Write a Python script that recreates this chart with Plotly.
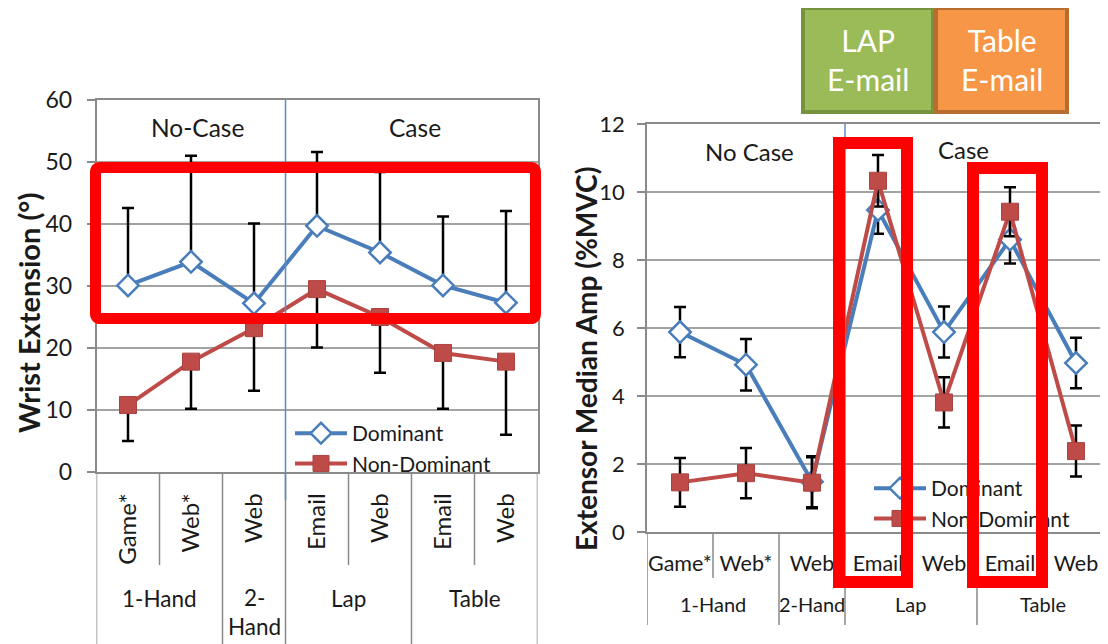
import plotly.graph_objects as go

# The page body has an 8px default margin, so the figure is laid out in
# window coordinates shifted by that amount.
OFF = 8
W, H = 1100, 636

# ---------------- data ----------------
sub_labels_left = ["Game*", "Web*", "Web", "Email", "Web", "Email", "Web"]
group_of_left = ["1-Hand", "1-Hand", "2-<br>Hand", "Lap", "Lap", "Table", "Table"]
sub_labels_right = ["Game*", "Web*", "Web", "Email", "Web", "Email", "Web"]
group_of_right = ["1-Hand", "1-Hand", "2-Hand", "Lap", "Lap", "Table", "Table"]

wrist_dom = [30.1, 33.9, 27.2, 39.7, 35.4, 30.1, 27.3]
wrist_dom_err_plus = [12.5, 17.1, 12.9, 11.9, 13.0, 11.1, 14.8]
wrist_nondom = [10.8, 17.8, 23.2, 29.5, 25.0, 19.2, 17.8]
wrist_nondom_err_minus = [5.8, 7.6, 10.1, 9.4, 9.0, 9.0, 11.8]

amp_dom = [5.88, 4.92, 1.48, 9.47, 5.88, 8.60, 4.97]
amp_dom_err = [0.74, 0.76, 0.75, 0.70, 0.75, 0.70, 0.74]
amp_nondom = [1.46, 1.73, 1.45, 10.33, 3.81, 9.42, 2.38]
amp_nondom_err = [0.72, 0.74, 0.75, 0.76, 0.74, 0.72, 0.75]

series_names = ["Dominant", "Non-Dominant"]
case_labels_left = ["No-Case", "Case"]
case_labels_right = ["No Case", "Case"]
box_labels = ["LAP<br>E-mail", "Table<br>E-mail"]

# ---------------- style ----------------
FONT = "Lato"
BLUE = "#4a7ebb"
RED = "#be4b48"
GRID = "#a3a3a3"
AXIS = "#8a8a8a"
TXT = "#1a1a1a"
idx = list(range(len(sub_labels_left)))


def px(x):
    return (x - OFF) / W


def py(y):
    return 1 - (y - OFF) / H


fig = go.Figure()

# ---- left chart traces ----
fig.add_trace(go.Scatter(
    x=idx, y=wrist_dom, mode="lines+markers", name=series_names[0],
    line=dict(color=BLUE, width=4),
    marker=dict(symbol="diamond", size=16.5, color="white", line=dict(color=BLUE, width=2.5)),
    error_y=dict(type="data", symmetric=False, array=wrist_dom_err_plus,
                 arrayminus=[0] * len(idx), color="black", thickness=2.5, width=6),
    xaxis="x", yaxis="y", legend="legend"))
fig.add_trace(go.Scatter(
    x=idx, y=wrist_nondom, mode="lines+markers", name=series_names[1],
    line=dict(color=RED, width=4),
    marker=dict(symbol="square", size=17, color=RED, line=dict(color="#a94340", width=1)),
    error_y=dict(type="data", symmetric=False, array=[0] * len(idx),
                 arrayminus=wrist_nondom_err_minus, color="black", thickness=2.5, width=6),
    xaxis="x", yaxis="y", legend="legend"))

# ---- right chart traces ----
fig.add_trace(go.Scatter(
    x=idx, y=amp_dom, mode="lines+markers", name=series_names[0],
    line=dict(color=BLUE, width=4),
    marker=dict(symbol="diamond", size=16.5, color="white", line=dict(color=BLUE, width=2.5)),
    error_y=dict(type="data", array=amp_dom_err, color="black", thickness=2.5, width=6),
    xaxis="x2", yaxis="y2", legend="legend2"))
fig.add_trace(go.Scatter(
    x=idx, y=amp_nondom, mode="lines+markers", name=series_names[1],
    line=dict(color=RED, width=4),
    marker=dict(symbol="square", size=17, color=RED, line=dict(color="#a94340", width=1)),
    error_y=dict(type="data", array=amp_nondom_err, color="black", thickness=2.5, width=6),
    xaxis="x2", yaxis="y2", legend="legend2"))

common_x = dict(showgrid=False, zeroline=False, showline=True, linecolor=AXIS, linewidth=1.5,
                mirror=True, ticks="", tickvals=idx, fixedrange=True, automargin=False)
common_y = dict(showgrid=True, gridcolor=GRID, gridwidth=1.5, zeroline=False, showline=True,
                linecolor=AXIS, linewidth=1.5, mirror=True, ticks="outside", ticklen=8,
                tickcolor=AXIS, tickwidth=1.5, fixedrange=True, automargin=False)

shapes = []
annotations = []


def dividers(xref, groups, y_top, y_short, y_bottom):
    n = len(groups)
    bounds = [-0.5, n - 0.5]
    for i in range(1, n):
        if groups[i] != groups[i - 1]:
            bounds.append(i - 0.5)
    for b in bounds:
        shapes.append(dict(type="line", xref=xref, yref="paper", x0=b, x1=b,
                           y0=py(y_top), y1=py(y_bottom), line=dict(color=AXIS, width=1.5)))
    for i in range(1, n):
        if groups[i] == groups[i - 1]:
            shapes.append(dict(type="line", xref=xref, yref="paper", x0=i - 0.5, x1=i - 0.5,
                               y0=py(y_top), y1=py(y_short), line=dict(color=AXIS, width=1.5)))


def group_centers(groups):
    out = []
    for g in dict.fromkeys(groups):
        members = [i for i, gg in enumerate(groups) if gg == g]
        out.append((g, sum(members) / len(members)))
    return out


def ann(**kw):
    base = dict(showarrow=False, xanchor="center", yanchor="middle")
    base.update(kw)
    annotations.append(base)


dividers("x", group_of_left, 472, 565, 644)
dividers("x2", group_of_right, 532, 578, 625)

for g, c in group_centers(group_of_left):
    ann(xref="x", yref="paper", x=c, y=py(598 if "<br>" not in g else 612),
        text=g, font=dict(family=FONT, size=22.5, color=TXT))
for g, c in group_centers(group_of_right):
    ann(xref="x2", yref="paper", x=c, y=py(604), text=g, font=dict(family=FONT, size=20, color=TXT))

# blue case separators
shapes.append(dict(type="line", xref="x", yref="paper", x0=2.5, x1=2.5, y0=py(100), y1=py(500),
                   line=dict(color="#5b8ac6", width=1.5)))
shapes.append(dict(type="line", xref="x2", yref="paper", x0=2.5, x1=2.5, y0=py(124), y1=py(560),
                   line=dict(color="#5b8ac6", width=1.5)))

# case labels in plot
ann(xref="x", yref="y", x=1.1, y=55.5, text=case_labels_left[0], font=dict(family=FONT, size=24.5, color=TXT))
ann(xref="x", yref="y", x=4.55, y=55.5, text=case_labels_left[1], font=dict(family=FONT, size=24.5, color=TXT))
ann(xref="x2", yref="y2", x=1.05, y=11.18, text=case_labels_right[0], font=dict(family=FONT, size=24, color=TXT))
ann(xref="x2", yref="y2", x=4.3, y=11.25, text=case_labels_right[1], font=dict(family=FONT, size=24, color=TXT))

# axis titles
ann(xref="paper", yref="paper", x=px(28), y=py(313), text="Wrist Extension (°)", textangle=-90,
    font=dict(family=FONT, size=29, color=TXT, weight="bold"))
ann(xref="paper", yref="paper", x=px(586), y=py(359), text="Extensor Median Amp (%MVC)", textangle=-90,
    font=dict(family=FONT, size=28, color=TXT, weight="bold"))

# top coloured boxes
shapes.append(dict(type="rect", xref="paper", yref="paper", x0=px(803), x1=px(933), y0=py(112), y1=py(8),
                   fillcolor="#9bbb59", line=dict(color="#76923c", width=4)))
shapes.append(dict(type="rect", xref="paper", yref="paper", x0=px(936), x1=px(1067), y0=py(112), y1=py(8),
                   fillcolor="#f79646", line=dict(color="#b66d2f", width=4)))
ann(xref="paper", yref="paper", x=px(868), y=py(60), text=box_labels[0],
    font=dict(family=FONT, size=30, color="white"))
ann(xref="paper", yref="paper", x=px(1002), y=py(60), text=box_labels[1],
    font=dict(family=FONT, size=30, color="white"))


# left red highlight rectangle (rounded corners)
def rounded_path(x0, y0, x1, y1, r):
    rx, ry = r / W, r / H
    X0, X1, Y0, Y1 = px(x0), px(x1), py(y0), py(y1)
    return (f"M {X0 + rx},{Y0} L {X1 - rx},{Y0} Q {X1},{Y0} {X1},{Y0 - ry} "
            f"L {X1},{Y1 + ry} Q {X1},{Y1} {X1 - rx},{Y1} L {X0 + rx},{Y1} "
            f"Q {X0},{Y1} {X0},{Y1 + ry} L {X0},{Y0 - ry} Q {X0},{Y0} {X0 + rx},{Y0} Z")


shapes.append(dict(type="path", xref="paper", yref="paper", path=rounded_path(95.5, 167.5, 535.5, 318.5, 5),
                   line=dict(color="#ff0000", width=11), layer="above"))

# right red highlight rectangles (as annotations so they sit above the legend)
for cx, cy, w, h in [(873, 362.5, 56, 427), (1007.75, 375, 56.5, 402)]:
    ann(xref="paper", yref="paper", x=px(cx), y=py(cy), text=" ", width=w, height=h,
        bordercolor="#ff0000", borderwidth=12, borderpad=0, bgcolor="rgba(0,0,0,0)", font=dict(size=2))

fig.update_layout(
    width=W, height=H, margin=dict(l=0, r=0, t=0, b=0, autoexpand=False),
    paper_bgcolor="white", plot_bgcolor="white",
    font=dict(family=FONT, color=TXT),
    xaxis=dict(common_x, domain=[px(96.5), px(537.5)], range=[-0.5, 6.5], anchor="y",
               ticktext=sub_labels_left, tickangle=-90, tickfont=dict(family=FONT, size=24, color=TXT),
               ticklabelstandoff=10),
    yaxis=dict(common_y, domain=[py(472), py(100)], range=[0, 60], dtick=10, anchor="x",
               tickfont=dict(family=FONT, size=23, color=TXT), ticklabelstandoff=10),
    xaxis2=dict(common_x, domain=[px(647), 1.0], range=[-0.5, 6.485], anchor="y2",
                ticktext=sub_labels_right, tickangle=0, tickfont=dict(family=FONT, size=21.5, color=TXT),
                ticklabelstandoff=11),
    yaxis2=dict(common_y, domain=[py(532), py(124)], range=[0, 12], dtick=2, anchor="x2",
                tickfont=dict(family=FONT, size=22, color=TXT), ticklabelstandoff=8),
    legend=dict(x=px(290), y=py(413), xanchor="left", yanchor="top", bgcolor="rgba(0,0,0,0)",
                font=dict(family=FONT, size=21, color=TXT), tracegroupgap=0, itemwidth=52),
    legend2=dict(x=px(869), y=py(468), xanchor="left", yanchor="top", bgcolor="rgba(0,0,0,0)",
                 font=dict(family=FONT, size=21, color=TXT), tracegroupgap=0, itemwidth=52),
    shapes=shapes, annotations=annotations, showlegend=True,
)

fig.write_html("out.html")
